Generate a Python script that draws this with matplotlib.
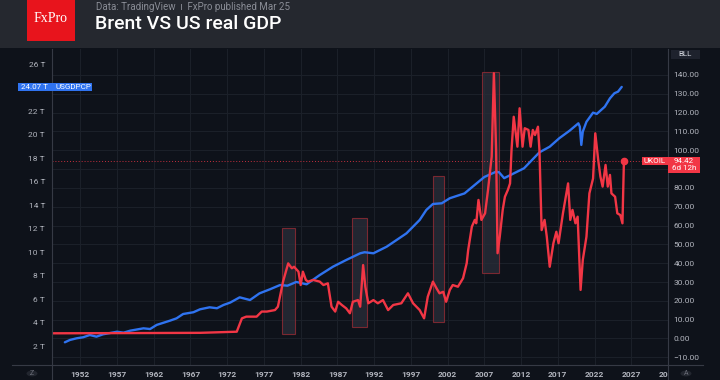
import matplotlib
matplotlib.use("Agg")
import matplotlib.pyplot as plt
from matplotlib.patches import Rectangle, Circle
from matplotlib.lines import Line2D
from matplotlib.ticker import FuncFormatter

plt.rcParams['font.family'] = ['Roboto', 'DejaVu Sans']

# US real GDP (trillions USD, left scale)
gdp_years = [1949.9, 1950.6, 1951.5, 1952.4, 1953.3, 1954.2, 1955.1, 1957.0, 1957.9, 1958.8,
             1960.6, 1961.5, 1962.4, 1964.2, 1965.1, 1966.0, 1967.4, 1968.3, 1969.6, 1970.6,
             1971.5, 1972.4, 1973.7, 1975.1, 1976.4, 1977.8, 1979.2, 1980.2, 1981.4, 1982.8,
             1984.6, 1986.4, 1988.2, 1990.1, 1990.7, 1991.9, 1993.7, 1996.4, 1998.2, 1999.1,
             2000.0, 2001.2, 2002.3, 2004.3, 2007.0, 2008.6, 2009.0, 2009.7, 2012.4, 2014.5,
             2015.9, 2017.2, 2018.6, 2019.8, 2020.0, 2020.2, 2020.4, 2020.9, 2021.8, 2022.3,
             2023.4, 2024.1, 2024.7, 2025.2, 2025.7]
gdp_vals = [2.32, 2.52, 2.66, 2.75, 2.94, 2.80, 3.00, 3.22, 3.14, 3.31,
            3.51, 3.45, 3.80, 4.16, 4.36, 4.73, 4.88, 5.13, 5.30, 5.22,
            5.50, 5.70, 6.15, 5.92, 6.49, 6.83, 7.20, 7.14, 7.46, 7.26,
            8.05, 8.76, 9.33, 9.90, 9.99, 9.90, 10.46, 11.60, 12.74, 13.59,
            14.10, 14.16, 14.59, 15.00, 16.40, 16.85, 16.80, 16.30, 17.14, 18.50,
            18.98, 19.70, 20.34, 20.97, 20.68, 19.13, 20.26, 21.10, 21.88, 21.77,
            22.39, 23.10, 23.53, 23.67, 24.07]

# Brent crude (USD, right scale)
oil_years = [1948.2, 1961.5, 1968.3, 1973.3, 1974.0, 1974.6, 1976.0, 1976.7, 1977.4, 1978.5,
             1978.9, 1979.6, 1980.3, 1980.8, 1981.1, 1981.7, 1982.0, 1982.3, 1982.7, 1983.0,
             1983.7, 1984.6, 1985.1, 1985.7, 1986.2, 1986.7, 1987.1, 1987.6, 1988.2, 1988.7,
             1989.1, 1989.8, 1990.1, 1990.5, 1990.8, 1991.2, 1991.9, 1992.5, 1993.2, 1993.9,
             1994.6, 1995.7, 1996.6, 1997.3, 1998.2, 1998.8, 1999.3, 2000.0, 2000.5, 2000.9,
             2001.4, 2001.8, 2002.3, 2002.7, 2003.4, 2004.1, 2004.6, 2004.8, 2005.3, 2005.7,
             2005.9, 2006.2, 2006.4, 2006.6, 2007.1, 2007.5, 2008.0, 2008.3, 2008.6, 2008.8,
             2009.1, 2009.5, 2009.8, 2010.2, 2010.5, 2010.7, 2011.0, 2011.5, 2011.8, 2012.2,
             2012.5, 2013.0, 2013.3, 2013.6, 2013.9, 2014.3, 2014.5, 2014.8, 2015.2, 2015.5,
             2015.9, 2016.4, 2016.8, 2017.1, 2017.7, 2018.4, 2018.7, 2019.0, 2019.4, 2019.7,
             2020.1, 2020.4, 2020.9, 2021.3, 2021.8, 2022.1, 2022.5, 2022.8, 2023.1, 2023.5,
             2023.8, 2024.1, 2024.3, 2024.8, 2025.1, 2025.5, 2025.8, 2026.0]
oil_vals = [2.75, 2.9, 3.0, 3.6, 10.7, 11.6, 11.6, 14.3, 14.3, 15.1,
            16.9, 30.2, 39.9, 37.3, 38.1, 35.5, 28.4, 35.5, 31.1, 30.2,
            31.1, 30.2, 28.4, 29.3, 16.9, 14.3, 19.5, 17.8, 16.0, 13.4,
            19.5, 20.4, 16.9, 39.0, 27.5, 18.7, 20.4, 18.7, 20.4, 15.1,
            17.8, 18.7, 24.0, 18.7, 15.1, 10.7, 22.2, 30.2, 26.6, 24.0,
            24.8, 19.5, 25.8, 28.4, 27.5, 32.0, 40.0, 47.0, 59.4, 63.0,
            61.2, 73.6, 68.3, 63.0, 66.5, 78.9, 96.6, 140.9, 100.1, 45.3,
            54.1, 68.3, 75.3, 78.9, 82.4, 100.1, 117.8, 101.9, 122.3, 101.9,
            111.7, 110.8, 101.9, 110.8, 108.1, 112.5, 100.1, 57.6, 63.0, 54.1,
            38.1, 50.6, 56.7, 50.6, 66.5, 82.4, 63.0, 68.3, 61.2, 64.7,
            25.8, 41.7, 54.1, 77.1, 85.0, 109.0, 94.8, 86.0, 80.7, 92.2,
            80.7, 86.9, 77.1, 75.3, 66.5, 65.6, 61.2, 94.42]

# highlighted periods: (start year, end year, low, high) in oil units
boxes = [(1979.5, 1981.25, 2.2, 58.5),
         (1989.0, 1991.0, 5.9, 63.9),
         (1999.95, 2001.5, 8.6, 86.3),
         (2006.7, 2009.0, 34.6, 141.8)]

x_ticks = list(range(1952, 2033, 5))
x_labels = [str(y) for y in x_ticks[:-1]] + ["20"]
gdp_ticks = list(range(2, 27, 2))
oil_ticks = list(range(-10, 141, 10))

BG = "#0e121a"
HEADER = "#25282f"
GRID = "#1b2029"
BLUE = "#2f73f0"
RED = "#f23645"
TXT = "#b2b5be"
LINE = "#363a45"

W, H = 720, 380
fig = plt.figure(figsize=(7.2, 3.8), dpi=100, facecolor=BG)


def fx(x):
    return x / W


def fy(y):
    return 1 - y / H


# header
fig.add_artist(Rectangle((0, fy(48)), 1, 48 / H, transform=fig.transFigure,
                         facecolor=HEADER, edgecolor="none"))
fig.add_artist(Rectangle((fx(27), fy(41)), 48 / W, 41 / H, transform=fig.transFigure,
                         facecolor="#e8141c", edgecolor="none"))
fig.text(fx(51), fy(19), "FxPro", color="white", fontsize=10, ha="center", va="center",
         family=["Liberation Serif", "DejaVu Serif"])
fig.text(fx(96), fy(6.5), "Data: TradingView  \u0131  FxPro published Mar 25", color="#8a8d96",
         fontsize=7, ha="left", va="center")
fig.text(fx(95), fy(24), "Brent VS US real GDP", color="white", fontsize=14,
         fontweight="medium", ha="left", va="center")

# axes: ax holds the oil scale, grid and boxes
rect = [fx(52), 15 / H, 616 / W, 316 / H]
ax = fig.add_axes(rect)
ax.set_facecolor(BG)
ax.set_xlim(1948.15, 2031.96)
ax.set_ylim(-14.09, 153.8)
axg = ax.twinx()   # GDP, left scale
axo = ax.twinx()   # oil line, drawn on top

# the price tags cover the 90.00 and 24 T labels
oil_hidden = {90}
gdp_hidden = {24}

ax.set_xticks(x_ticks)
ax.set_xticklabels(x_labels)
ax.set_yticks(oil_ticks)
ax.yaxis.set_major_formatter(FuncFormatter(
    lambda v, p: "" if round(v) in oil_hidden else f"{v:.2f}".replace("-", "\u2212")))
ax.grid(True, color=GRID, linewidth=0.8)
ax.tick_params(axis="both", length=0, colors=TXT, labelsize=6)
ax.tick_params(axis="y", pad=4, left=False, labelleft=False, right=False, labelright=True)
ax.tick_params(axis="x", pad=4.5)
for lbl in ax.get_xticklabels():
    lbl.set_fontweight("bold")
ax.get_xticklabels()[-1].set_ha("right")

for x0, x1, lo, hi in boxes:
    ax.add_patch(Rectangle((x0, lo), x1 - x0, hi - lo, facecolor="#2a2e39", alpha=0.75,
                           edgecolor="#9c2d36", linewidth=0.8, zorder=2))
ax.axhline(oil_vals[-1], color=RED, linestyle=(0, (1, 2)), linewidth=0.7, alpha=0.8, zorder=2)

axg.set_ylim(0.386, 27.30)
axg.set_yticks(gdp_ticks)
axg.set_yticklabels(["" if v in gdp_hidden else f"{v} T" for v in gdp_ticks])
axg.tick_params(axis="y", length=0, colors=TXT, labelsize=6, pad=5,
                left=False, labelleft=True, right=False, labelright=False)
axg.plot(gdp_years, gdp_vals, color=BLUE, linewidth=1.7, solid_capstyle="round")

axo.set_ylim(ax.get_ylim())
axo.set_yticks([])
axo.plot(oil_years, oil_vals, color=RED, linewidth=1.7, solid_joinstyle="round")
axo.plot(oil_years[-1], oil_vals[-1], "o", color=RED, markersize=4.5)

for a in (ax, axg, axo):
    for s in a.spines.values():
        s.set_visible(False)

# frame lines
fig.add_artist(Line2D([fx(52), fx(52)], [fy(49), 0], transform=fig.transFigure, color=LINE, lw=0.8))
fig.add_artist(Line2D([fx(668), fx(668)], [fy(49), 0], transform=fig.transFigure, color=LINE, lw=0.8))
fig.add_artist(Line2D([fx(12), fx(703)], [fy(365), fy(365)], transform=fig.transFigure, color=LINE, lw=0.8))


def label_box(x0, y0, x1, y1, color, text, tcolor="white", size=5.8):
    fig.add_artist(Rectangle((fx(x0), fy(y1)), (x1 - x0) / W, (y1 - y0) / H,
                             transform=fig.transFigure, facecolor=color, edgecolor="none", zorder=5))
    if text:
        fig.text(fx((x0 + x1) / 2), fy((y0 + y1) / 2), text, color=tcolor, fontsize=size,
                 ha="center", va="center", zorder=6, linespacing=1.1)


label_box(18, 82.5, 92, 91, BLUE, "")
fig.text(fx(34), fy(87), "24.07 T", color="white", fontsize=5.8, ha="center", va="center", zorder=6)
fig.text(fx(73), fy(87), "USGDPCP", color="white", fontsize=5.8, ha="center", va="center", zorder=6)
label_box(671, 50, 700, 58.5, "#1e222d", "BLL", tcolor="#d1d4dc")
label_box(641.5, 156.5, 668, 165, RED, "UKOIL")
label_box(668, 156.5, 700, 173, RED, "94.42\n6d 12h")

# bottom buttons
for cx, ch in [(32, "Z"), (686, "A")]:
    fig.add_artist(Circle((fx(cx), fy(373.5)), 5.5 / W, transform=fig.transFigure,
                          facecolor="#22262f", edgecolor="none"))
    fig.text(fx(cx), fy(373.5), ch, color="#6a6d78", fontsize=5, ha="center", va="center")

fig.savefig("out.png", dpi=100, facecolor=BG)
